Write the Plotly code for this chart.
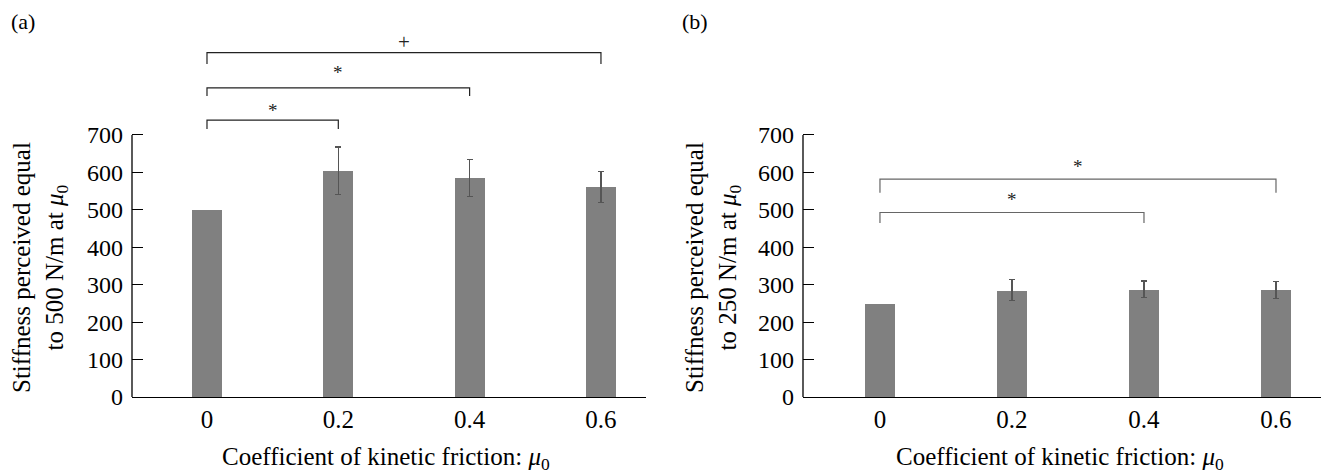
import plotly.graph_objects as go

# ---- data ----
mu_labels = ["0", "0.2", "0.4", "0.6"]
mu_pos = [0, 1, 2, 3]
a_means = [500, 604, 585, 561]
a_err = [None, 64, 50, 42]
b_means = [250, 285, 288, 286]
b_err = [None, 28, 22, 23]
y_ticks = [0, 100, 200, 300, 400, 500, 600, 700]
# significance brackets: (from, to, bar level, leg bottom, symbol, symbol level)
a_brackets = [(0, 1, 740, 716, "*", 765), (0, 2, 826, 804, "*", 866), (0, 3, 920, 890, "+", 948)]
b_brackets = [(0, 2, 493, 465, "*", 527), (0, 3, 582, 546, "*", 617)]

FONT = "Liberation Serif, Times New Roman, serif"
BAR = "#808080"
ERR = "#555555"
W, H = 1330, 474
OFF = 8  # page body margin offset


def fx(p):
    return (p - OFF) / W


def fy(p):
    return 1 - (p - OFF) / H


fig = go.Figure()

for means, errs, xa, ya in [(a_means, a_err, "x", "y"), (b_means, b_err, "x2", "y2")]:
    # all bars
    fig.add_trace(go.Bar(
        x=mu_pos, y=means, width=0.23, marker=dict(color=BAR, line=dict(width=0)),
        xaxis=xa, yaxis=ya, showlegend=False,
    ))
    # bars that carry error bars (overlaid, identical geometry)
    idx = [i for i, e in enumerate(errs) if e is not None]
    fig.add_trace(go.Bar(
        x=[mu_pos[i] for i in idx], y=[means[i] for i in idx], width=0.23,
        marker=dict(color=BAR, line=dict(width=0)),
        error_y=dict(type="data", array=[errs[i] for i in idx], visible=True,
                     color=ERR, thickness=1.2, width=3),
        xaxis=xa, yaxis=ya, showlegend=False,
    ))

ydom = [fy(397), fy(397 - 960 * 262 / 700)]
common_y = dict(range=[0, 960], tickvals=y_ticks, ticks="inside", ticklen=11, tickcolor="black",
                tickwidth=1, showline=False, showgrid=False, zeroline=False, ticklabelstandoff=8,
                tickfont=dict(family=FONT, size=24, color="black"), domain=ydom, automargin=False)
common_x = dict(tickvals=mu_pos, ticktext=mu_labels, showline=True, linecolor="black", linewidth=1.3,
                ticks="", showgrid=False, zeroline=False,
                tickfont=dict(family=FONT, size=25, color="black"), automargin=False)

fig.update_layout(
    width=W, height=H,
    margin=dict(l=0, r=0, t=0, b=0),
    plot_bgcolor="white", paper_bgcolor="white",
    barmode="overlay", bargap=0,
    xaxis=dict(domain=[fx(132), fx(646)], range=[-0.571, 3.343], anchor="y", **common_x),
    yaxis=dict(anchor="x", **common_y),
    xaxis2=dict(domain=[fx(803), fx(1321)], range=[-0.583, 3.341], anchor="y2", **common_x),
    yaxis2=dict(anchor="x2", **common_y),
)

shapes = []
annotations = []
# y-axis lines (only up to 700)
for xd, yr in [("x domain", "y"), ("x2 domain", "y2")]:
    shapes.append(dict(type="line", xref=xd, yref=yr, x0=0, x1=0, y0=0, y1=700,
                       line=dict(color="black", width=1.3)))

for brs, xr, yr, col in [(a_brackets, "x", "y", "#222222"), (b_brackets, "x2", "y2", "#666666")]:
    for x0, x1, yl, yb, sym, ys in brs:
        shapes.append(dict(type="path", xref=xr, yref=yr,
                           path=f"M {x0},{yb} L {x0},{yl} L {x1},{yl} L {x1},{yb}",
                           line=dict(color=col, width=1.2)))
        annotations.append(dict(x=(x0 + x1) / 2, y=ys, xref=xr, yref=yr, text=sym, showarrow=False,
                                font=dict(family=FONT, size=21 if sym == "+" else 19, color="#222222"),
                                xanchor="center", yanchor="middle"))

# panel labels
for txt, xp in [("(a)", 9), ("(b)", 680)]:
    annotations.append(dict(x=fx(xp), y=fy(21), xref="paper", yref="paper", text=txt, showarrow=False,
                            xanchor="left", yanchor="middle",
                            font=dict(family=FONT, size=22, color="black")))

# axis titles
xt = "Coefficient of kinetic friction: <i>μ</i><sub>0</sub>"
for cx in [386, 1060]:
    annotations.append(dict(x=fx(cx), y=fy(458), xref="paper", yref="paper", text=xt, showarrow=False,
                            xanchor="center", yanchor="middle",
                            font=dict(family=FONT, size=25, color="black")))
for cx, val in [(40, 500), (713, 250)]:
    annotations.append(dict(x=fx(cx), y=fy(268), xref="paper", yref="paper",
                            text=f"Stiffness perceived equal<br>to {val} N/m at <i>μ</i><sub>0</sub>",
                            showarrow=False, textangle=-90, xanchor="center", yanchor="middle",
                            font=dict(family=FONT, size=25, color="black")))

fig.update_layout(shapes=shapes, annotations=annotations)
fig.write_html("out.html")
